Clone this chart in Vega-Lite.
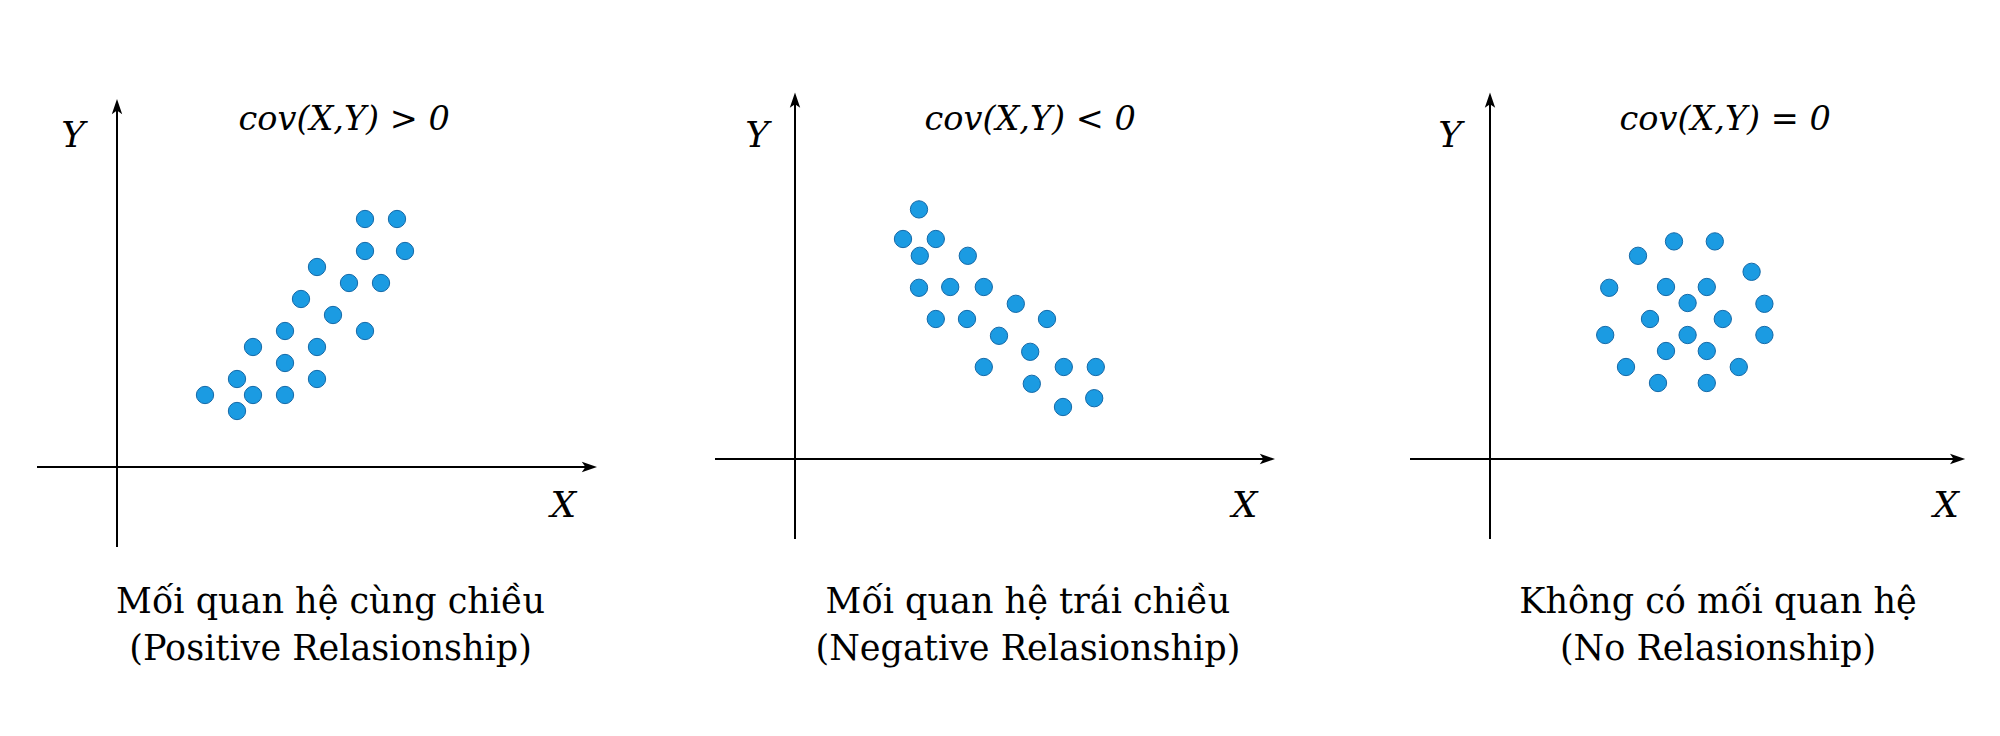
{
  "$schema": "https://vega.github.io/schema/vega-lite/v6.json",
  "background": "white",
  "padding": 0,
  "spacing": 0,
  "bounds": "flush",
  "config": {"view": {"stroke": null}},
  "datasets": {
    "points": [
      {"panel": 1, "x": 15.5, "y": 15.5}, {"panel": 1, "x": 17.5, "y": 15.5}, {"panel": 1, "x": 15.5, "y": 13.5}, {"panel": 1, "x": 18, "y": 13.5},
      {"panel": 1, "x": 12.5, "y": 12.5}, {"panel": 1, "x": 14.5, "y": 11.5}, {"panel": 1, "x": 16.5, "y": 11.5}, {"panel": 1, "x": 11.5, "y": 10.5},
      {"panel": 1, "x": 13.5, "y": 9.5}, {"panel": 1, "x": 15.5, "y": 8.5}, {"panel": 1, "x": 10.5, "y": 8.5}, {"panel": 1, "x": 8.5, "y": 7.5},
      {"panel": 1, "x": 12.5, "y": 7.5}, {"panel": 1, "x": 10.5, "y": 6.5}, {"panel": 1, "x": 7.5, "y": 5.5}, {"panel": 1, "x": 12.5, "y": 5.5},
      {"panel": 1, "x": 5.5, "y": 4.5}, {"panel": 1, "x": 8.5, "y": 4.5}, {"panel": 1, "x": 10.5, "y": 4.5}, {"panel": 1, "x": 7.5, "y": 3.5},
      {"panel": 2, "x": 7.75, "y": 15.6}, {"panel": 2, "x": 6.75, "y": 13.75}, {"panel": 2, "x": 8.8, "y": 13.75}, {"panel": 2, "x": 7.8, "y": 12.7},
      {"panel": 2, "x": 10.8, "y": 12.7}, {"panel": 2, "x": 7.75, "y": 10.7}, {"panel": 2, "x": 9.7, "y": 10.75}, {"panel": 2, "x": 11.8, "y": 10.75},
      {"panel": 2, "x": 13.8, "y": 9.7}, {"panel": 2, "x": 8.8, "y": 8.75}, {"panel": 2, "x": 10.75, "y": 8.75}, {"panel": 2, "x": 15.75, "y": 8.75},
      {"panel": 2, "x": 12.75, "y": 7.7}, {"panel": 2, "x": 14.7, "y": 6.7}, {"panel": 2, "x": 11.8, "y": 5.75}, {"panel": 2, "x": 16.8, "y": 5.75},
      {"panel": 2, "x": 18.8, "y": 5.75}, {"panel": 2, "x": 14.8, "y": 4.7}, {"panel": 2, "x": 18.7, "y": 3.8}, {"panel": 2, "x": 16.75, "y": 3.25},
      {"panel": 3, "x": 11.5, "y": 13.6}, {"panel": 3, "x": 14.05, "y": 13.6}, {"panel": 3, "x": 9.25, "y": 12.7}, {"panel": 3, "x": 16.35, "y": 11.7},
      {"panel": 3, "x": 7.45, "y": 10.7}, {"panel": 3, "x": 11.0, "y": 10.75}, {"panel": 3, "x": 13.55, "y": 10.75}, {"panel": 3, "x": 12.35, "y": 9.75},
      {"panel": 3, "x": 17.15, "y": 9.7}, {"panel": 3, "x": 10.0, "y": 8.75}, {"panel": 3, "x": 14.55, "y": 8.75}, {"panel": 3, "x": 7.2, "y": 7.75},
      {"panel": 3, "x": 12.35, "y": 7.75}, {"panel": 3, "x": 17.15, "y": 7.75}, {"panel": 3, "x": 11.0, "y": 6.75}, {"panel": 3, "x": 13.55, "y": 6.75},
      {"panel": 3, "x": 8.5, "y": 5.75}, {"panel": 3, "x": 15.55, "y": 5.75}, {"panel": 3, "x": 10.5, "y": 4.75}, {"panel": 3, "x": 13.55, "y": 4.75}
    ],
    "axes": [
      {"panel": 1, "x": -5, "x2": 29.5, "y": 0, "y2": 0}, {"panel": 1, "x": 0, "x2": 0, "y": -5, "y2": 22.5},
      {"panel": 2, "x": -5, "x2": 29.5, "y": 0, "y2": 0}, {"panel": 2, "x": 0, "x2": 0, "y": -5, "y2": 22.4},
      {"panel": 3, "x": -5, "x2": 29.2, "y": 0, "y2": 0}, {"panel": 3, "x": 0, "x2": 0, "y": -5, "y2": 22.4}
    ],
    "arrows": [
      {"panel": 1, "x": 29.5, "y": 0, "dir": "right"}, {"panel": 1, "x": 0, "y": 22.5, "dir": "up"},
      {"panel": 2, "x": 29.5, "y": 0, "dir": "right"}, {"panel": 2, "x": 0, "y": 22.4, "dir": "up"},
      {"panel": 3, "x": 29.2, "y": 0, "dir": "right"}, {"panel": 3, "x": 0, "y": 22.4, "dir": "up"}
    ],
    "labels": [
      {"panel": 1, "kind": "title", "x": 14.2, "y": 21.06, "text": "cov(X,Y) > 0"},
      {"panel": 1, "kind": "axis", "x": -2.75, "y": 20.0, "text": "Y"},
      {"panel": 1, "kind": "axis", "x": 27.9, "y": -3.125, "text": "X"},
      {"panel": 1, "kind": "cap", "x": 13.35, "y": -9.125, "text": "Mối quan hệ cùng chiều"},
      {"panel": 1, "kind": "cap", "x": 13.35, "y": -12.06, "text": "(Positive Relasionship)"},
      {"panel": 2, "kind": "title", "x": 14.7, "y": 20.56, "text": "cov(X,Y) < 0"},
      {"panel": 2, "kind": "axis", "x": -2.375, "y": 19.5, "text": "Y"},
      {"panel": 2, "kind": "axis", "x": 28.1, "y": -3.625, "text": "X"},
      {"panel": 2, "kind": "cap", "x": 14.56, "y": -9.625, "text": "Mối quan hệ trái chiều"},
      {"panel": 2, "kind": "cap", "x": 14.56, "y": -12.56, "text": "(Negative Relasionship)"},
      {"panel": 3, "kind": "title", "x": 14.7, "y": 20.56, "text": "cov(X,Y) = 0"},
      {"panel": 3, "kind": "axis", "x": -2.5, "y": 19.5, "text": "Y"},
      {"panel": 3, "kind": "axis", "x": 28.5, "y": -3.625, "text": "X"},
      {"panel": 3, "kind": "cap", "x": 14.25, "y": -9.625, "text": "Không có mối quan hệ"},
      {"panel": 3, "kind": "cap", "x": 14.25, "y": -12.56, "text": "(No Relasionship)"}
    ]
  },
  "hconcat": [
    {
      "width": 670, "height": 736,
      "layer": [
        {"data": {"name": "axes"}, "transform": [{"filter": "datum.panel == 1"}],
         "mark": {"type": "rule", "color": "#000000", "strokeWidth": 2},
         "encoding": {
           "x": {"field": "x", "type": "quantitative", "scale": {"domain": [-7.3125, 34.5625], "nice": false, "zero": false}, "axis": null},
           "x2": {"field": "x2"},
           "y": {"field": "y", "type": "quantitative", "scale": {"domain": [-16.8125, 29.1875], "nice": false, "zero": false}, "axis": null},
           "y2": {"field": "y2"}}},
        {"data": {"name": "arrows"}, "transform": [{"filter": "datum.panel == 1"}],
         "mark": {"type": "point", "filled": true, "color": "#000000", "size": 256, "opacity": 1},
         "encoding": {
           "x": {"field": "x", "type": "quantitative", "scale": {"domain": [-7.3125, 34.5625], "nice": false, "zero": false}, "axis": null},
           "y": {"field": "y", "type": "quantitative", "scale": {"domain": [-16.8125, 29.1875], "nice": false, "zero": false}, "axis": null},
           "shape": {"field": "dir", "type": "nominal", "scale": {"domain": ["right", "up"], "range": ["M1,0L-0.9,-0.65L-0.45,0L-0.9,0.65Z", "M0,-1L0.65,0.9L0,0.45L-0.65,0.9Z"]}, "legend": null}}},
        {"data": {"name": "points"}, "transform": [{"filter": "datum.panel == 1"}],
         "mark": {"type": "circle", "size": 300, "fill": "#1b9be2", "stroke": "#1469a8", "strokeWidth": 1, "opacity": 1},
         "encoding": {
           "x": {"field": "x", "type": "quantitative", "scale": {"domain": [-7.3125, 34.5625], "nice": false, "zero": false}, "axis": null},
           "y": {"field": "y", "type": "quantitative", "scale": {"domain": [-16.8125, 29.1875], "nice": false, "zero": false}, "axis": null}}},
        {"data": {"name": "labels"}, "transform": [{"filter": "datum.panel == 1 && datum.kind == 'title'"}],
         "mark": {"type": "text", "font": "DejaVu Serif", "fontStyle": "italic", "fontSize": 33.5, "align": "center", "baseline": "alphabetic", "color": "#000000"},
         "encoding": {
           "x": {"field": "x", "type": "quantitative", "scale": {"domain": [-7.3125, 34.5625], "nice": false, "zero": false}, "axis": null},
           "y": {"field": "y", "type": "quantitative", "scale": {"domain": [-16.8125, 29.1875], "nice": false, "zero": false}, "axis": null},
           "text": {"field": "text"}}},
        {"data": {"name": "labels"}, "transform": [{"filter": "datum.panel == 1 && datum.kind == 'axis'"}],
         "mark": {"type": "text", "font": "DejaVu Serif", "fontStyle": "italic", "fontSize": 36, "align": "center", "baseline": "alphabetic", "color": "#000000"},
         "encoding": {
           "x": {"field": "x", "type": "quantitative", "scale": {"domain": [-7.3125, 34.5625], "nice": false, "zero": false}, "axis": null},
           "y": {"field": "y", "type": "quantitative", "scale": {"domain": [-16.8125, 29.1875], "nice": false, "zero": false}, "axis": null},
           "text": {"field": "text"}}},
        {"data": {"name": "labels"}, "transform": [{"filter": "datum.panel == 1 && datum.kind == 'cap'"}],
         "mark": {"type": "text", "font": "DejaVu Serif", "fontSize": 35, "align": "center", "baseline": "alphabetic", "color": "#000000"},
         "encoding": {
           "x": {"field": "x", "type": "quantitative", "scale": {"domain": [-7.3125, 34.5625], "nice": false, "zero": false}, "axis": null},
           "y": {"field": "y", "type": "quantitative", "scale": {"domain": [-16.8125, 29.1875], "nice": false, "zero": false}, "axis": null},
           "text": {"field": "text"}}}
      ]
    },
    {
      "width": 690, "height": 736,
      "layer": [
        {"data": {"name": "axes"}, "transform": [{"filter": "datum.panel == 2"}],
         "mark": {"type": "rule", "color": "#000000", "strokeWidth": 2},
         "encoding": {
           "x": {"field": "x", "type": "quantitative", "scale": {"domain": [-7.8125, 35.3125], "nice": false, "zero": false}, "axis": null},
           "x2": {"field": "x2"},
           "y": {"field": "y", "type": "quantitative", "scale": {"domain": [-17.3125, 28.6875], "nice": false, "zero": false}, "axis": null},
           "y2": {"field": "y2"}}},
        {"data": {"name": "arrows"}, "transform": [{"filter": "datum.panel == 2"}],
         "mark": {"type": "point", "filled": true, "color": "#000000", "size": 256, "opacity": 1},
         "encoding": {
           "x": {"field": "x", "type": "quantitative", "scale": {"domain": [-7.8125, 35.3125], "nice": false, "zero": false}, "axis": null},
           "y": {"field": "y", "type": "quantitative", "scale": {"domain": [-17.3125, 28.6875], "nice": false, "zero": false}, "axis": null},
           "shape": {"field": "dir", "type": "nominal", "scale": {"domain": ["right", "up"], "range": ["M1,0L-0.9,-0.65L-0.45,0L-0.9,0.65Z", "M0,-1L0.65,0.9L0,0.45L-0.65,0.9Z"]}, "legend": null}}},
        {"data": {"name": "points"}, "transform": [{"filter": "datum.panel == 2"}],
         "mark": {"type": "circle", "size": 300, "fill": "#1b9be2", "stroke": "#1469a8", "strokeWidth": 1, "opacity": 1},
         "encoding": {
           "x": {"field": "x", "type": "quantitative", "scale": {"domain": [-7.8125, 35.3125], "nice": false, "zero": false}, "axis": null},
           "y": {"field": "y", "type": "quantitative", "scale": {"domain": [-17.3125, 28.6875], "nice": false, "zero": false}, "axis": null}}},
        {"data": {"name": "labels"}, "transform": [{"filter": "datum.panel == 2 && datum.kind == 'title'"}],
         "mark": {"type": "text", "font": "DejaVu Serif", "fontStyle": "italic", "fontSize": 33.5, "align": "center", "baseline": "alphabetic", "color": "#000000"},
         "encoding": {
           "x": {"field": "x", "type": "quantitative", "scale": {"domain": [-7.8125, 35.3125], "nice": false, "zero": false}, "axis": null},
           "y": {"field": "y", "type": "quantitative", "scale": {"domain": [-17.3125, 28.6875], "nice": false, "zero": false}, "axis": null},
           "text": {"field": "text"}}},
        {"data": {"name": "labels"}, "transform": [{"filter": "datum.panel == 2 && datum.kind == 'axis'"}],
         "mark": {"type": "text", "font": "DejaVu Serif", "fontStyle": "italic", "fontSize": 36, "align": "center", "baseline": "alphabetic", "color": "#000000"},
         "encoding": {
           "x": {"field": "x", "type": "quantitative", "scale": {"domain": [-7.8125, 35.3125], "nice": false, "zero": false}, "axis": null},
           "y": {"field": "y", "type": "quantitative", "scale": {"domain": [-17.3125, 28.6875], "nice": false, "zero": false}, "axis": null},
           "text": {"field": "text"}}},
        {"data": {"name": "labels"}, "transform": [{"filter": "datum.panel == 2 && datum.kind == 'cap'"}],
         "mark": {"type": "text", "font": "DejaVu Serif", "fontSize": 35, "align": "center", "baseline": "alphabetic", "color": "#000000"},
         "encoding": {
           "x": {"field": "x", "type": "quantitative", "scale": {"domain": [-7.8125, 35.3125], "nice": false, "zero": false}, "axis": null},
           "y": {"field": "y", "type": "quantitative", "scale": {"domain": [-17.3125, 28.6875], "nice": false, "zero": false}, "axis": null},
           "text": {"field": "text"}}}
      ]
    },
    {
      "width": 640, "height": 736,
      "layer": [
        {"data": {"name": "axes"}, "transform": [{"filter": "datum.panel == 3"}],
         "mark": {"type": "rule", "color": "#000000", "strokeWidth": 2},
         "encoding": {
           "x": {"field": "x", "type": "quantitative", "scale": {"domain": [-8.125, 31.875], "nice": false, "zero": false}, "axis": null},
           "x2": {"field": "x2"},
           "y": {"field": "y", "type": "quantitative", "scale": {"domain": [-17.3125, 28.6875], "nice": false, "zero": false}, "axis": null},
           "y2": {"field": "y2"}}},
        {"data": {"name": "arrows"}, "transform": [{"filter": "datum.panel == 3"}],
         "mark": {"type": "point", "filled": true, "color": "#000000", "size": 256, "opacity": 1},
         "encoding": {
           "x": {"field": "x", "type": "quantitative", "scale": {"domain": [-8.125, 31.875], "nice": false, "zero": false}, "axis": null},
           "y": {"field": "y", "type": "quantitative", "scale": {"domain": [-17.3125, 28.6875], "nice": false, "zero": false}, "axis": null},
           "shape": {"field": "dir", "type": "nominal", "scale": {"domain": ["right", "up"], "range": ["M1,0L-0.9,-0.65L-0.45,0L-0.9,0.65Z", "M0,-1L0.65,0.9L0,0.45L-0.65,0.9Z"]}, "legend": null}}},
        {"data": {"name": "points"}, "transform": [{"filter": "datum.panel == 3"}],
         "mark": {"type": "circle", "size": 300, "fill": "#1b9be2", "stroke": "#1469a8", "strokeWidth": 1, "opacity": 1},
         "encoding": {
           "x": {"field": "x", "type": "quantitative", "scale": {"domain": [-8.125, 31.875], "nice": false, "zero": false}, "axis": null},
           "y": {"field": "y", "type": "quantitative", "scale": {"domain": [-17.3125, 28.6875], "nice": false, "zero": false}, "axis": null}}},
        {"data": {"name": "labels"}, "transform": [{"filter": "datum.panel == 3 && datum.kind == 'title'"}],
         "mark": {"type": "text", "font": "DejaVu Serif", "fontStyle": "italic", "fontSize": 33.5, "align": "center", "baseline": "alphabetic", "color": "#000000"},
         "encoding": {
           "x": {"field": "x", "type": "quantitative", "scale": {"domain": [-8.125, 31.875], "nice": false, "zero": false}, "axis": null},
           "y": {"field": "y", "type": "quantitative", "scale": {"domain": [-17.3125, 28.6875], "nice": false, "zero": false}, "axis": null},
           "text": {"field": "text"}}},
        {"data": {"name": "labels"}, "transform": [{"filter": "datum.panel == 3 && datum.kind == 'axis'"}],
         "mark": {"type": "text", "font": "DejaVu Serif", "fontStyle": "italic", "fontSize": 36, "align": "center", "baseline": "alphabetic", "color": "#000000"},
         "encoding": {
           "x": {"field": "x", "type": "quantitative", "scale": {"domain": [-8.125, 31.875], "nice": false, "zero": false}, "axis": null},
           "y": {"field": "y", "type": "quantitative", "scale": {"domain": [-17.3125, 28.6875], "nice": false, "zero": false}, "axis": null},
           "text": {"field": "text"}}},
        {"data": {"name": "labels"}, "transform": [{"filter": "datum.panel == 3 && datum.kind == 'cap'"}],
         "mark": {"type": "text", "font": "DejaVu Serif", "fontSize": 35, "align": "center", "baseline": "alphabetic", "color": "#000000"},
         "encoding": {
           "x": {"field": "x", "type": "quantitative", "scale": {"domain": [-8.125, 31.875], "nice": false, "zero": false}, "axis": null},
           "y": {"field": "y", "type": "quantitative", "scale": {"domain": [-17.3125, 28.6875], "nice": false, "zero": false}, "axis": null},
           "text": {"field": "text"}}}
      ]
    }
  ]
}
